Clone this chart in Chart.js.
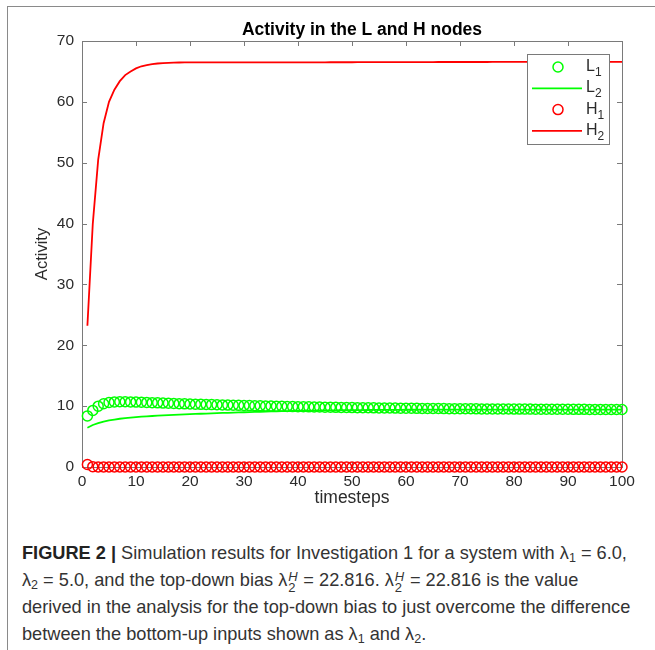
<!DOCTYPE html>
<html>
<head>
<meta charset="utf-8">
<title>Activity in the L and H nodes</title>
<script src="https://cdn.jsdelivr.net/npm/chart.js@4.4.0/dist/chart.umd.min.js"></script>
<style>
  html, body { margin: 0; padding: 0; background: #fff; }
  #page { position: relative; width: 655px; height: 650px; overflow: hidden; }
  #frame { position: absolute; left: 7px; top: 6px; width: 660px; height: 660px;
           border-left: 1px solid #8a8a8a; border-top: 1px solid #8a8a8a; }
  #chart { position: absolute; left: 0; top: 0; }
  #caption { position: absolute; left: 22px; top: 540px; width: 700px;
             font-family: "Liberation Sans", Arial, sans-serif; font-size: 18.2px;
             line-height: 27px; color: #333; white-space: nowrap; }
  #caption b { color: #222; }
  #caption sub { font-size: 12.5px; line-height: 0; vertical-align: -3px; }
  .ss { position: relative; display: inline-block; width: 11px; height: 1px; }
  .ss i, .ss span { position: absolute; left: 1px; font-size: 13px; line-height: 13px; }
  .ss i { top: -15px; }
  .ss span { top: -4px; }
</style>
</head>
<body>
<div id="page">
  <div id="frame"></div>
  <canvas id="chart" width="655" height="515"></canvas>
  <div id="caption"><b>FIGURE 2 |</b> Simulation results for Investigation 1 for a system with λ<sub>1</sub> = 6.0,<br>λ<sub>2</sub> = 5.0, and the top-down bias λ<span class="ss"><i>H</i><span>2</span></span> = 22.816. λ<span class="ss"><i>H</i><span>2</span></span> = 22.816 is the value<br>derived in the analysis for the top-down bias to just overcome the difference<br>between the bottom-up inputs shown as λ<sub>1</sub> and λ<sub>2</sub>.</div>
</div>
<script>
// timesteps 1..100
const timesteps = Array.from({length: 100}, (_, i) => i + 1);

// L1 (circles)
const activityL1 = [
  8.4, 9.3, 10.0, 10.4, 10.6, 10.7, 10.72, 10.72, 10.7, 10.67,
  10.64, 10.61, 10.57, 10.54, 10.5, 10.47, 10.44, 10.41, 10.38, 10.35,
  10.32, 10.3, 10.27, 10.25, 10.22, 10.2, 10.17, 10.15, 10.13, 10.11,
  10.09, 10.07, 10.05, 10.03, 10.01, 9.99, 9.97, 9.95, 9.93, 9.91,
  9.9, 9.88, 9.86, 9.85, 9.83, 9.82, 9.8, 9.79, 9.78, 9.76,
  9.75, 9.74, 9.73, 9.72, 9.71, 9.7, 9.69, 9.68, 9.67, 9.66,
  9.65, 9.64, 9.63, 9.62, 9.62, 9.61, 9.6, 9.59, 9.59, 9.58,
  9.57, 9.57, 9.56, 9.55, 9.55, 9.54, 9.54, 9.53, 9.53, 9.52,
  9.52, 9.51, 9.51, 9.5, 9.5, 9.49, 9.49, 9.49, 9.48, 9.48,
  9.47, 9.47, 9.47, 9.46, 9.46, 9.46, 9.45, 9.45, 9.45, 9.45
];

// L2 (line)
const activityL2 = [
  6.46, 6.9, 7.2, 7.45, 7.65, 7.8, 7.93, 8.03, 8.12, 8.2,
  8.27, 8.33, 8.38, 8.43, 8.48, 8.52, 8.56, 8.6, 8.64, 8.68,
  8.72, 8.75, 8.78, 8.82, 8.85, 8.88, 8.91, 8.94, 8.97, 9.0,
  9.03, 9.06, 9.08, 9.11, 9.13, 9.15, 9.17, 9.19, 9.21, 9.23,
  9.24, 9.26, 9.27, 9.28, 9.3, 9.31, 9.32, 9.33, 9.34, 9.35,
  9.36, 9.36, 9.37, 9.38, 9.38, 9.39, 9.39, 9.4, 9.4, 9.41,
  9.41, 9.41, 9.42, 9.42, 9.42, 9.42, 9.43, 9.43, 9.43, 9.43,
  9.43, 9.44, 9.44, 9.44, 9.44, 9.44, 9.44, 9.44, 9.44, 9.44,
  9.44, 9.44, 9.44, 9.44, 9.44, 9.44, 9.44, 9.44, 9.44, 9.44,
  9.44, 9.44, 9.44, 9.44, 9.44, 9.44, 9.44, 9.44, 9.44, 9.44
];

// H1 (circles)
const activityH1 = [
  0.42, 0.06, 0.02, 0.01, 0, 0, 0, 0, 0, 0,
  0, 0, 0, 0, 0, 0, 0, 0, 0, 0,
  0, 0, 0, 0, 0, 0, 0, 0, 0, 0,
  0, 0, 0, 0, 0, 0, 0, 0, 0, 0,
  0, 0, 0, 0, 0, 0, 0, 0, 0, 0,
  0, 0, 0, 0, 0, 0, 0, 0, 0, 0,
  0, 0, 0, 0, 0, 0, 0, 0, 0, 0,
  0, 0, 0, 0, 0, 0, 0, 0, 0, 0,
  0, 0, 0, 0, 0, 0, 0, 0, 0, 0,
  0, 0, 0, 0, 0, 0, 0, 0, 0, 0
];

// H2 (line)
const activityH2 = [
  23.2, 40.0, 50.5, 56.5, 60.0, 62.0, 63.4, 64.4, 65.0, 65.5,
  65.85, 66.05, 66.2, 66.3, 66.38, 66.42, 66.45, 66.47, 66.48, 66.49,
  66.5, 66.5, 66.5, 66.5, 66.5, 66.5, 66.5, 66.5, 66.5, 66.5,
  66.5, 66.5, 66.5, 66.5, 66.5, 66.5, 66.5, 66.5, 66.5, 66.5,
  66.5, 66.5, 66.5, 66.5, 66.5, 66.51, 66.51, 66.51, 66.51, 66.51,
  66.52, 66.52, 66.52, 66.52, 66.52, 66.53, 66.53, 66.53, 66.53, 66.53,
  66.54, 66.54, 66.54, 66.54, 66.54, 66.55, 66.55, 66.55, 66.55, 66.55,
  66.55, 66.55, 66.55, 66.55, 66.55, 66.56, 66.56, 66.56, 66.56, 66.56,
  66.56, 66.56, 66.56, 66.56, 66.56, 66.57, 66.57, 66.57, 66.57, 66.57,
  66.57, 66.57, 66.57, 66.57, 66.57, 66.57, 66.57, 66.57, 66.57, 66.57
];

const xTicks = [0, 10, 20, 30, 40, 50, 60, 70, 80, 90, 100];
const yTicks = [0, 10, 20, 30, 40, 50, 60, 70];
const chartTitle = 'Activity in the L and H nodes';

const GREEN = '#00ff00';
const RED = '#ff0000';
const AXIS = '#7a7a7a';
const TEXT = '#2b2b2b';
const FONT = '"Liberation Sans", Arial, Helvetica, sans-serif';

Chart.defaults.font.family = FONT;

// MATLAB-style box with inward ticks on all four sides, plus the title
const boxPlugin = {
  id: 'box',
  beforeDatasetsDraw(chart) {
    const {ctx, chartArea: a, scales} = chart;
    ctx.save();
    ctx.strokeStyle = AXIS;
    ctx.lineWidth = 1;
    ctx.strokeRect(a.left + 0.5, a.top + 0.5, a.right - a.left, a.bottom - a.top);
    ctx.beginPath();
    const len = 5;
    for (const v of xTicks) {
      const px = Math.round(scales.x.getPixelForValue(v)) + 0.5;
      ctx.moveTo(px, a.bottom); ctx.lineTo(px, a.bottom - len);
      ctx.moveTo(px, a.top); ctx.lineTo(px, a.top + len);
    }
    for (const v of yTicks) {
      const py = Math.round(scales.y.getPixelForValue(v)) + 0.5;
      ctx.moveTo(a.left, py); ctx.lineTo(a.left + len, py);
      ctx.moveTo(a.right, py); ctx.lineTo(a.right - len, py);
    }
    ctx.stroke();

    ctx.fillStyle = '#000';
    ctx.font = 'bold 17.5px ' + FONT;
    ctx.textAlign = 'center';
    ctx.textBaseline = 'alphabetic';
    ctx.fillText(chartTitle, (a.left + a.right) / 2 + 10, a.top - 6);
    ctx.restore();
  }
};

// legend drawn inside the plot, top right, with subscripts
const legendPlugin = {
  id: 'boxLegend',
  afterDatasetsDraw(chart) {
    const {ctx, chartArea: a} = chart;
    const w = 82, h = 90;
    const left = a.right - 13 - w, top = a.top + 13;
    ctx.save();
    ctx.fillStyle = '#fff';
    ctx.fillRect(left, top, w, h);
    ctx.strokeStyle = AXIS;
    ctx.lineWidth = 1;
    ctx.strokeRect(left + 0.5, top + 0.5, w, h);
    chart.data.datasets.forEach((ds, i) => {
      const y = top + 13 + i * 21.3;
      ctx.strokeStyle = ds.borderColor;
      if (ds.showLine === false) {
        ctx.lineWidth = 1.5;
        ctx.beginPath();
        ctx.arc(left + 31, y, 5, 0, Math.PI * 2);
        ctx.stroke();
      } else {
        ctx.lineWidth = 1.8;
        ctx.beginPath();
        ctx.moveTo(left + 5, y); ctx.lineTo(left + 55, y);
        ctx.stroke();
      }
      ctx.fillStyle = TEXT;
      ctx.textAlign = 'left';
      ctx.textBaseline = 'alphabetic';
      ctx.font = '16px ' + FONT;
      ctx.fillText(ds.label[0], left + 59, y + 4);
      const lw = ctx.measureText(ds.label[0]).width;
      ctx.font = '12px ' + FONT;
      ctx.fillText(ds.label.slice(1), left + 59 + lw, y + 9);
    });
    ctx.restore();
  }
};

new Chart(document.getElementById('chart').getContext('2d'), {
  type: 'line',
  data: {
    labels: timesteps,
    datasets: [
      {label: 'L1', data: activityL1, showLine: false, borderColor: GREEN,
       pointStyle: 'circle', pointRadius: 5, pointBorderWidth: 1.5,
       pointBorderColor: GREEN, pointBackgroundColor: 'rgba(0,0,0,0)', clip: false},
      {label: 'L2', data: activityL2, borderColor: GREEN, borderWidth: 1.8,
       pointRadius: 0, tension: 0, clip: false},
      {label: 'H1', data: activityH1, showLine: false, borderColor: RED,
       pointStyle: 'circle', pointRadius: 5, pointBorderWidth: 1.5,
       pointBorderColor: RED, pointBackgroundColor: 'rgba(0,0,0,0)', clip: false},
      {label: 'H2', data: activityH2, borderColor: RED, borderWidth: 1.8,
       pointRadius: 0, tension: 0, clip: false}
    ]
  },
  options: {
    responsive: false,
    animation: false,
    layout: {padding: {left: 0, right: 33, top: 41, bottom: 0}},
    plugins: {
      legend: {display: false},
      tooltip: {enabled: false},
      title: {display: false}
    },
    scales: {
      x: {
        type: 'linear', min: 0, max: 100,
        afterBuildTicks: s => { s.ticks = xTicks.map(v => ({value: v})); },
        afterFit: s => { s.height = 48; },
        ticks: {color: TEXT, font: {size: 15.5}, padding: 5, maxRotation: 0},
        grid: {display: false, drawTicks: false},
        border: {display: false},
        title: {display: true, text: 'timesteps', color: TEXT, font: {size: 17.5},
                padding: {top: 0, bottom: 6}}
      },
      y: {
        min: 0, max: 70,
        afterBuildTicks: s => { s.ticks = yTicks.map(v => ({value: v})); },
        afterFit: s => { s.width = 82; },
        ticks: {color: TEXT, font: {size: 15.5}, padding: 8},
        grid: {display: false, drawTicks: false},
        border: {display: false},
        title: {display: true, text: 'Activity', color: TEXT, font: {size: 16.5},
                padding: {top: 33, bottom: 0}}
      }
    }
  },
  plugins: [boxPlugin, legendPlugin]
});
</script>
</body>
</html>
